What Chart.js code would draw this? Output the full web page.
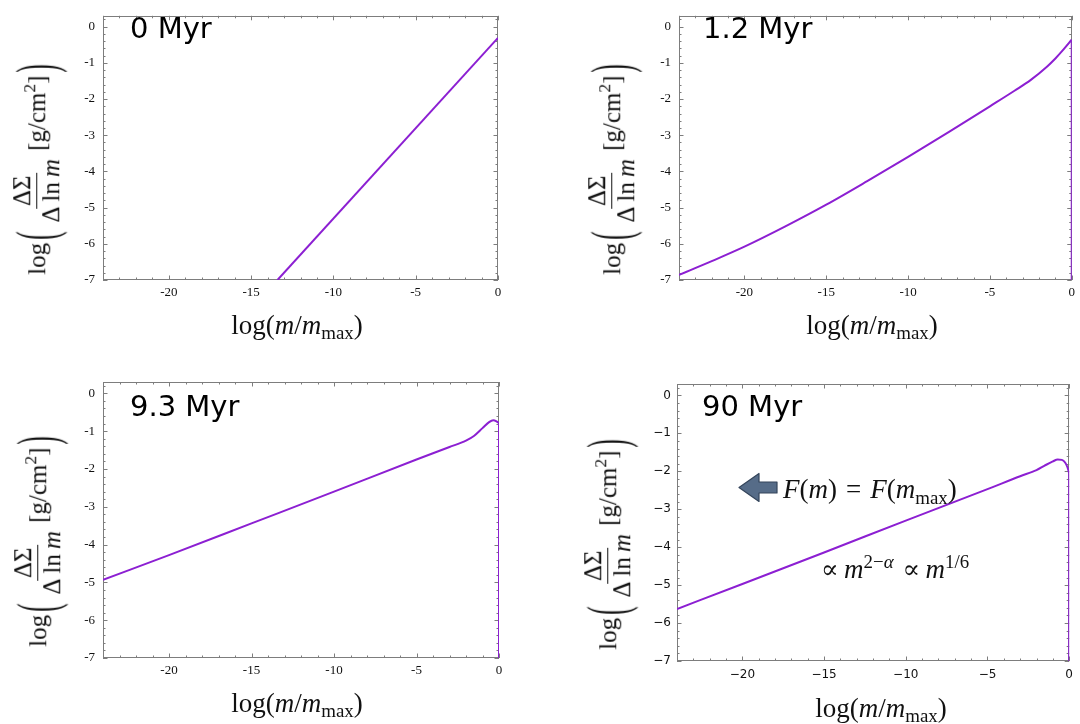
<!DOCTYPE html>
<html>
<head>
<meta charset="utf-8">
<script src="https://cdn.jsdelivr.net/npm/chart.js@4.4.1/dist/chart.umd.min.js"></script>
<style>
  html, body { margin: 0; padding: 0; background: #fff; }
  #stage { position: relative; width: 1080px; height: 724px; overflow: hidden; background: #fff; }
  #stage canvas { position: absolute; }
  .ytitle {
    position: absolute; transform: translate(-50%, -50%) rotate(-90deg);
    white-space: nowrap; display: flex; align-items: center;
    font-family: "Liberation Serif", "DejaVu Serif", serif; font-size: 25px; color: #111;
  }
  .ytitle .bigp { display: inline-block; font-size: 25px; transform: scaleY(2.3); margin: 0 3px; }
  .frac { display: inline-flex; flex-direction: column; align-items: center; margin: 0 5px 0 3px; line-height: 1.05; }
  .frac .num { border-bottom: 1.2px solid #111; padding: 0 3px 1px; }
  .frac .den { padding: 1px 3px 0; }
  .unit sup { font-size: 70%; vertical-align: 0.55em; line-height: 0; }
  .xtitle {
    position: absolute; transform: translate(-50%, -50%); white-space: nowrap;
    font-family: "Liberation Serif", "DejaVu Serif", serif; font-size: 27px; color: #111;
  }
  .xtitle sub, .note sub { font-size: 70%; vertical-align: -0.3em; line-height: 0; }
  .note sup { font-size: 70%; vertical-align: 0.55em; line-height: 0; }
  .plabel {
    position: absolute; white-space: nowrap; line-height: 1;
    font-family: "DejaVu Sans", sans-serif; font-size: 29px; color: #000;
  }
  .note {
    position: absolute; white-space: nowrap; line-height: 1;
    font-family: "Liberation Serif", "DejaVu Serif", serif; font-size: 27px; color: #111;
  }
  .note .rel { font-family: "DejaVu Serif", serif; font-size: 26px; }
  .note .sp { display: inline-block; width: 9px; }
  svg { position: absolute; left: 0; top: 0; }
</style>
</head>
<body>
<div id="stage">
  <canvas id="c0" width="540" height="362" style="left:0;top:0"></canvas>
  <canvas id="c1" width="540" height="362" style="left:540px;top:0"></canvas>
  <canvas id="c2" width="540" height="362" style="left:0;top:362px"></canvas>
  <canvas id="c3" width="540" height="362" style="left:540px;top:362px"></canvas>
</div>
<script>
// Axis ticks shared by all four panels
const xTicks = [-20, -15, -10, -5, 0];
const yTicks = [0, -1, -2, -3, -4, -5, -6, -7];
const xRange = [-24, 0];
const yRange = [-7, 0.3];

// Snapshot times
const panelLabels = ['0 Myr', '1.2 Myr', '9.3 Myr', '90 Myr'];

// log(m/m_max) and log(ΔΣ/Δln m) for each snapshot
const x0 = [-13.4, 0];
const y0 = [-7.0, -0.31];

const x1 = [-24, -22, -20, -17.5, -15, -12.5, -10, -7.5, -5, -3.5, -2.5, -1.5, -1, -0.5, 0];
const y1 = [-6.86, -6.48, -6.08, -5.52, -4.92, -4.27, -3.6, -2.91, -2.2, -1.77, -1.47, -1.1, -0.88, -0.63, -0.36];

const x2 = [-24, -20, -15, -10, -5, -3, -2, -1.5, -1, -0.6, -0.35, -0.15, 0];
const y2 = [-4.93, -4.28, -3.44, -2.6, -1.75, -1.42, -1.25, -1.12, -0.92, -0.76, -0.71, -0.74, -0.79];

const x3 = [-24, -20, -15, -10, -5, -3, -2, -1.5, -1, -0.7, -0.45, -0.25, -0.1, 0];
const y3 = [-5.63, -4.97, -4.14, -3.3, -2.47, -2.13, -1.97, -1.85, -1.74, -1.69, -1.7, -1.77, -1.9, -2.05];

const series = [[x0, y0], [x1, y1], [x2, y2], [x3, y3]];
const hasDrop = [false, true, true, true];

const LINE = '#8c1fd2';
const FRAME = '#7d7d7d';

// Mathematica-style frame with inward ticks on all four sides
const frameTicks = {
  id: 'frameTicks',
  beforeDatasetsDraw(chart) {
    const { ctx, chartArea: a, scales: { x, y } } = chart;
    ctx.save();
    ctx.strokeStyle = FRAME;
    ctx.lineWidth = 1;
    ctx.strokeRect(Math.round(a.left) + 0.5, Math.round(a.top) + 0.5,
                   Math.round(a.right - a.left) - 1, Math.round(a.bottom - a.top) - 1);
    ctx.beginPath();
    for (let v = Math.ceil(x.min); v <= x.max; v++) {
      const px = Math.round(x.getPixelForValue(v)) + 0.5;
      const len = v % 5 === 0 ? 4.5 : 2.5;
      ctx.moveTo(px, a.bottom); ctx.lineTo(px, a.bottom - len);
      ctx.moveTo(px, a.top); ctx.lineTo(px, a.top + len);
    }
    for (let k = Math.ceil(y.min / 0.2 - 1e-9); k * 0.2 <= y.max + 1e-9; k++) {
      const py = Math.round(y.getPixelForValue(k * 0.2)) + 0.5;
      const len = k % 5 === 0 ? 4.5 : 2.5;
      ctx.moveTo(a.left, py); ctx.lineTo(a.left + len, py);
      ctx.moveTo(a.right, py); ctx.lineTo(a.right - len, py);
    }
    ctx.stroke();
    ctx.restore();
  }
};

// Plot-area placement inside each 540x362 canvas
const layouts = [
  { left: 103, right: 498, top: 5,  bottom: 280 },
  { left: 139, right: 533, top: 5,  bottom: 280 },
  { left: 103, right: 499, top: 20, bottom: 296 },
  { left: 137, right: 533, top: 22, bottom: 299 }
];
const Y_AXIS_W = 30, X_AXIS_H = 22;

function makePanel(i) {
  const [xs, ys] = series[i];
  const pts = xs.map((v, k) => ({ x: v, y: ys[k] }));
  const datasets = [{
    data: pts, borderColor: LINE, borderWidth: 2, pointRadius: 0,
    cubicInterpolationMode: 'monotone', fill: false
  }];
  if (hasDrop[i]) {
    const last = pts[pts.length - 1];
    datasets.push({
      data: [{ x: last.x, y: last.y }, { x: last.x, y: yRange[0] }],
      borderColor: LINE, borderWidth: 2, pointRadius: 0, tension: 0, fill: false
    });
  }
  const L = layouts[i];
  const sans = i === 3;
  const tickFont = sans
    ? { family: 'DejaVu Sans', size: 12 }
    : { family: 'Liberation Serif', size: 13 };
  const fmt = v => sans && v < 0 ? '\u2212' + Math.abs(v) : String(v);

  new Chart(document.getElementById('c' + i), {
    type: 'scatter',
    data: { datasets },
    plugins: [frameTicks],
    options: {
      responsive: false, animation: false, devicePixelRatio: 1,
      showLine: true,
      layout: { padding: {
        left: L.left - Y_AXIS_W, right: 540 - L.right,
        top: L.top, bottom: 362 - L.bottom - X_AXIS_H } },
      plugins: { legend: { display: false }, tooltip: { enabled: false } },
      scales: {
        x: {
          type: 'linear', min: xRange[0], max: xRange[1],
          grid: { display: false, drawTicks: false }, border: { display: false },
          afterBuildTicks: s => { s.ticks = xTicks.map(v => ({ value: v })); },
          afterFit: s => { s.height = X_AXIS_H; },
          ticks: { font: tickFont, color: '#111', padding: sans ? 7 : 5,
                   maxRotation: 0, autoSkip: false, callback: fmt }
        },
        y: {
          type: 'linear', min: yRange[0], max: yRange[1],
          grid: { display: false, drawTicks: false }, border: { display: false },
          afterBuildTicks: s => { s.ticks = yTicks.map(v => ({ value: v })); },
          afterFit: s => { s.width = Y_AXIS_W; },
          ticks: { font: tickFont, color: '#111', padding: sans ? 6 : 8,
                   autoSkip: false, callback: fmt }
        }
      }
    }
  });
}
[0, 1, 2, 3].forEach(makePanel);

// Axis titles, snapshot labels and annotations
const stage = document.getElementById('stage');
const yTitleHTML =
  '<span>log</span><span class="bigp">(</span>' +
  '<span class="frac"><span class="num">&Delta;&Sigma;</span>' +
  '<span class="den">&Delta;&thinsp;ln&thinsp;<i>m</i></span></span>' +
  '<span class="unit">[g/cm<sup>2</sup>]</span><span class="bigp">)</span>';
const xTitleHTML = 'log(<i>m</i>/<i>m</i><sub>max</sub>)';

const yTitlePos = [[37, 168], [612, 168], [38, 540], [608, 543]];
const xTitlePos = [[297, 325], [872, 325], [297, 703], [881, 708]];
const labelPos = [[130, 14], [703, 14], [130, 392], [702, 392]];

function addEl(cls, html, left, top) {
  const d = document.createElement('div');
  d.className = cls;
  d.innerHTML = html;
  d.style.left = left + 'px';
  d.style.top = top + 'px';
  stage.appendChild(d);
  return d;
}
for (let i = 0; i < 4; i++) {
  addEl('ytitle', yTitleHTML, yTitlePos[i][0], yTitlePos[i][1]);
  addEl('xtitle', xTitleHTML, xTitlePos[i][0], xTitlePos[i][1]);
  addEl('plabel', panelLabels[i], labelPos[i][0], labelPos[i][1]);
}
addEl('note', '<i>F</i>(<i>m</i>)<span class="sp"></span>=<span class="sp"></span><i>F</i>(<i>m</i><sub>max</sub>)', 783, 476);
addEl('note', '<span class="rel">&prop;</span>&thinsp;<i>m</i><sup>2&minus;<i>&alpha;</i></sup><span class="sp"></span><span class="rel">&prop;</span>&thinsp;<i>m</i><sup>1/6</sup>', 821, 556);

// Block arrow pointing to smaller masses
const svgNS = 'http://www.w3.org/2000/svg';
const svg = document.createElementNS(svgNS, 'svg');
svg.setAttribute('width', '1080');
svg.setAttribute('height', '724');
const arrow = document.createElementNS(svgNS, 'polygon');
arrow.setAttribute('points', '739,487.5 759,473.5 759,482 777,482 777,493 759,493 759,501.5');
arrow.setAttribute('fill', '#566c88');
arrow.setAttribute('stroke', '#34455b');
arrow.setAttribute('stroke-width', '1.2');
arrow.setAttribute('stroke-linejoin', 'round');
svg.appendChild(arrow);
stage.appendChild(svg);
</script>
</body>
</html>
